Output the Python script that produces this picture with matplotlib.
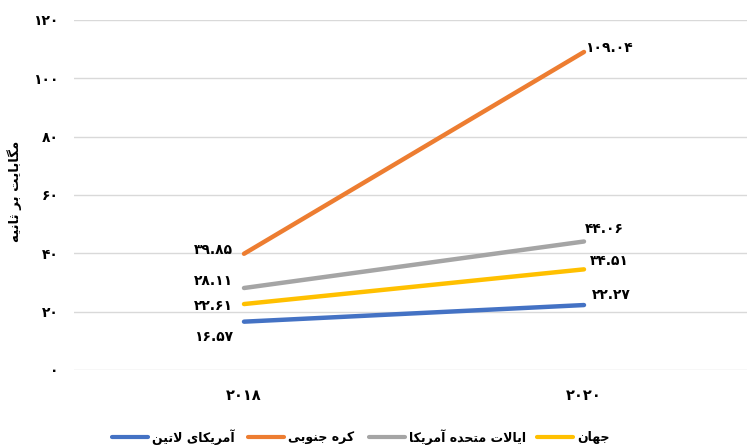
import matplotlib
matplotlib.use("Agg")
import matplotlib.pyplot as plt
from matplotlib.lines import Line2D

# data
years = ["2018", "2020"]
series_names = ["آمریکای لاتین", "کره جنوبی", "ایالات متحده آمریکا", "جهان"]
latin_america = [16.57, 22.27]
south_korea = [39.85, 109.04]
usa = [28.11, 44.06]
world = [22.61, 34.51]
y_ticks = [0, 20, 40, 60, 80, 100, 120]
y_label = "مگابایت بر ثانیه"

colors = ["#4472C4", "#ED7D31", "#A5A5A5", "#FFC000"]

# --- small arabic shaper (matplotlib does no shaping / bidi) ---
FORMS = {  # iso, fin, ini, med
    "ا": ("\uFE8D", "\uFE8E", None, None),
    "آ": ("\uFE81", "\uFE82", None, None),
    "ب": ("\uFE8F", "\uFE90", "\uFE91", "\uFE92"),
    "ت": ("\uFE95", "\uFE96", "\uFE97", "\uFE98"),
    "ث": ("\uFE99", "\uFE9A", "\uFE9B", "\uFE9C"),
    "ج": ("\uFE9D", "\uFE9E", "\uFE9F", "\uFEA0"),
    "ح": ("\uFEA1", "\uFEA2", "\uFEA3", "\uFEA4"),
    "د": ("\uFEA9", "\uFEAA", None, None),
    "ر": ("\uFEAD", "\uFEAE", None, None),
    "ل": ("\uFEDD", "\uFEDE", "\uFEDF", "\uFEE0"),
    "م": ("\uFEE1", "\uFEE2", "\uFEE3", "\uFEE4"),
    "ن": ("\uFEE5", "\uFEE6", "\uFEE7", "\uFEE8"),
    "ه": ("\uFEE9", "\uFEEA", "\uFEEB", "\uFEEC"),
    "و": ("\uFEED", "\uFEEE", None, None),
    "ک": ("\uFB8E", "\uFB8F", "\uFB90", "\uFB91"),
    "گ": ("\uFB92", "\uFB93", "\uFB94", "\uFB95"),
    "ی": ("\uFBFC", "\uFBFD", "\uFBFE", "\uFBFF"),
    "لا": ("\uFEFB", "\uFEFC", None, None),
    "لآ": ("\uFEF5", "\uFEF6", None, None),
}


def shape(text):
    # merge lam-alef
    units = []
    i = 0
    while i < len(text):
        if text[i] == "ل" and i + 1 < len(text) and text[i + 1] in "اآ":
            units.append(text[i:i + 2])
            i += 2
        else:
            units.append(text[i])
            i += 1
    out = []
    for k, u in enumerate(units):
        if u not in FORMS:
            out.append(u)
            continue
        prev = units[k - 1] if k > 0 else None
        nxt = units[k + 1] if k + 1 < len(units) else None
        joins_prev = prev in FORMS and FORMS[prev][2] is not None
        joins_next = nxt in FORMS and FORMS[u][2] is not None
        iso, fin, ini, med = FORMS[u]
        if joins_prev and joins_next:
            out.append(med)
        elif joins_prev:
            out.append(fin)
        elif joins_next:
            out.append(ini)
        else:
            out.append(iso)
    return "".join(reversed(out))


def fa_num(s):
    return "".join(chr(0x06F0 + int(c)) if c.isdigit() else c for c in str(s))


plt.rcParams["font.family"] = ["DejaVu Sans"]
plt.rcParams["font.weight"] = "bold"

W, H = 747, 446
fig = plt.figure(figsize=(W / 100, H / 100), dpi=100)
ax = fig.add_axes([74 / W, 76 / H, 680 / W, 350 / H])

x = list(range(len(years)))
all_series = [latin_america, south_korea, usa, world]
for vals, name, c in zip(all_series, series_names, colors):
    ax.plot(x, vals, color=c, lw=3.2, solid_capstyle="round", zorder=3)

# data labels (offsets in points)
offsets = [
    [(-22, -11), (20, 7)],
    [(-22, 3), (18, 3)],
    [(-22, 5), (15, 9)],
    [(-22, -1.5), (18, 6)],
]
for vals, offs in zip(all_series, offsets):
    for xi, v, off in zip(x, vals, offs):
        ax.annotate(fa_num(f"{v:.2f}"), (xi, v), xytext=off, textcoords="offset points",
                    ha="center", va="center", fontsize=10, fontweight="bold", color="#000000")

ax.set_xlim(-0.5, 1.5)
ax.set_ylim(0, 120)
ax.set_yticks(y_ticks)
ax.set_yticklabels([fa_num(t) for t in y_ticks], fontsize=10, fontweight="bold")
ax.set_xticks(x)
ax.set_xticklabels([fa_num(y) for y in years], fontsize=10.5, fontweight="bold")
ax.tick_params(axis="both", length=0)
ax.tick_params(axis="y", pad=11)
ax.tick_params(axis="x", pad=13)
ax.grid(axis="y", color="#D9D9D9", lw=1)
ax.set_axisbelow(True)
for s in ax.spines.values():
    s.set_visible(False)

fig.text(15 / W, 1 - 191 / H, shape(y_label), rotation=90, ha="center", va="center",
         fontsize=9.5, fontweight="bold")

# legend, laid out by hand
leg_y = 1 - 437 / H
handle_x = [112, 248, 369, 537]
for hx, name, c in zip(handle_x, series_names, colors):
    fig.add_artist(Line2D([hx / W, (hx + 36) / W], [leg_y, leg_y], color=c, lw=3,
                          solid_capstyle="round", transform=fig.transFigure))
    fig.text((hx + 40) / W, leg_y, shape(name), ha="left", va="center",
             fontsize=9, fontweight="bold")

fig.savefig("out.png", dpi=100)
